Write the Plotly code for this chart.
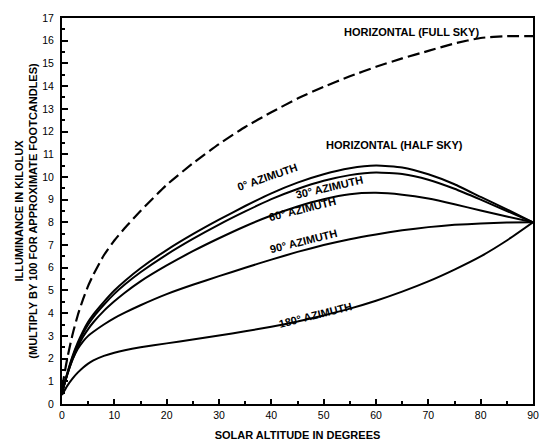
import plotly.graph_objects as go

# Solar altitude (degrees)
alt = [0, 1, 2, 3, 4, 5, 6, 8, 10, 12, 15, 20, 25, 30, 35, 40, 45, 50, 55, 60, 65, 70, 75, 80, 85, 90]

full_sky = [0.7, 2.0, 3.05, 3.9, 4.6, 5.2, 5.7, 6.55, 7.2, 7.75, 8.5, 9.65, 10.6, 11.45, 12.2, 12.85,
            13.45, 13.97, 14.43, 14.85, 15.22, 15.55, 15.88, 16.12, 16.2, 16.2]
az0 = [0.5, 1.35, 2.1, 2.7, 3.2, 3.62, 3.95, 4.5, 5.0, 5.42, 5.98, 6.78, 7.48, 8.12, 8.72, 9.28,
       9.75, 10.12, 10.38, 10.5, 10.42, 10.12, 9.68, 9.12, 8.57, 8.0]
az30 = [0.5, 1.32, 2.05, 2.62, 3.1, 3.5, 3.83, 4.37, 4.85, 5.26, 5.8, 6.58, 7.27, 7.9, 8.48, 9.02,
        9.47, 9.83, 10.08, 10.2, 10.13, 9.88, 9.48, 9.0, 8.5, 8.0]
az60 = [0.5, 1.28, 1.95, 2.5, 2.95, 3.3, 3.6, 4.1, 4.52, 4.9, 5.4, 6.1, 6.73, 7.3, 7.83, 8.3,
        8.7, 9.02, 9.24, 9.3, 9.22, 9.05, 8.8, 8.52, 8.26, 8.0]
az90 = [0.5, 1.3, 1.95, 2.42, 2.75, 3.0, 3.18, 3.5, 3.78, 4.02, 4.35, 4.84, 5.25, 5.63, 6.0, 6.36,
        6.7, 7.0, 7.26, 7.47, 7.65, 7.79, 7.89, 7.95, 7.99, 8.0]
az180 = [0.4, 0.8, 1.12, 1.38, 1.6, 1.78, 1.92, 2.12, 2.26, 2.37, 2.5, 2.67, 2.84, 3.02, 3.2, 3.4,
         3.63, 3.9, 4.2, 4.55, 4.95, 5.4, 5.92, 6.5, 7.2, 8.0]

labels = ["HORIZONTAL (FULL SKY)", "HORIZONTAL (HALF SKY)", "0° AZIMUTH", "30° AZIMUTH",
          "60° AZIMUTH", "90° AZIMUTH", "180° AZIMUTH"]
label_x = [66.8, 63.5, 39.2, 51.2, 46.0, 46.2, 48.4]
label_y = [16.4, 11.4, 10.0, 9.55, 8.6, 7.2, 3.9]
label_angle = [0, 0, -19, -13, -14, -14, -14]

fig = go.Figure()
fig.add_trace(go.Scatter(x=alt, y=full_sky, mode="lines",
                         line=dict(color="black", width=2.2, dash="12px,5px", shape="spline", smoothing=0.5),
                         showlegend=False))
for ys in [az0, az30, az60, az90, az180]:
    fig.add_trace(go.Scatter(x=alt, y=ys, mode="lines",
                             line=dict(color="black", width=2, shape="spline", smoothing=0.5),
                             showlegend=False))

text_font = dict(family="Liberation Sans, Arial", size=11, color="black")
for t, xx, yy, a in zip(labels, label_x, label_y, label_angle):
    fig.add_annotation(x=xx, y=yy, text="<b>" + t + "</b>", showarrow=False, textangle=a, font=text_font)

axis_font = dict(family="Liberation Sans, Arial", size=10.5, color="black")
fig.update_xaxes(range=[0, 90], tickvals=list(range(0, 91, 10)), ticks="inside", ticklen=5, tickwidth=1.5,
                 minor=dict(tickvals=list(range(5, 90, 10)), ticks="inside", ticklen=3, tickcolor="black"),
                 showline=True, linecolor="black", linewidth=2, mirror=True, showgrid=False, zeroline=False,
                 tickfont=axis_font, tickcolor="black", ticklabeloverflow="allow",
                 tickprefix="<b>", ticksuffix="</b>",
                 title=dict(text="<b>SOLAR ALTITUDE IN DEGREES</b>", font=text_font, standoff=12))
fig.update_yaxes(range=[0, 17], tickvals=list(range(0, 18)), ticks="inside", ticklen=6, tickwidth=1.5,
                 minor=dict(tickvals=[i + 0.5 for i in range(17)], ticks="inside", ticklen=3, tickcolor="black"),
                 showline=True, linecolor="black", linewidth=2, mirror=True, showgrid=False, zeroline=False,
                 tickfont=axis_font, tickcolor="black", tickprefix="<b>", ticksuffix="</b>",
                 ticklabelstandoff=4,
                 title=dict(text="<b>ILLUMINANCE IN KILOLUX</b><br><b>(MULTIPLY BY 100 FOR APPROXIMATE FOOTCANDLES)</b>",
                            font=text_font, standoff=2))

fig.update_layout(width=541, height=446, margin=dict(l=62, r=2, t=18, b=42),
                  paper_bgcolor="white", plot_bgcolor="white",
                  font=dict(family="Liberation Sans, Arial", color="black"))
fig.write_html("out.html")
